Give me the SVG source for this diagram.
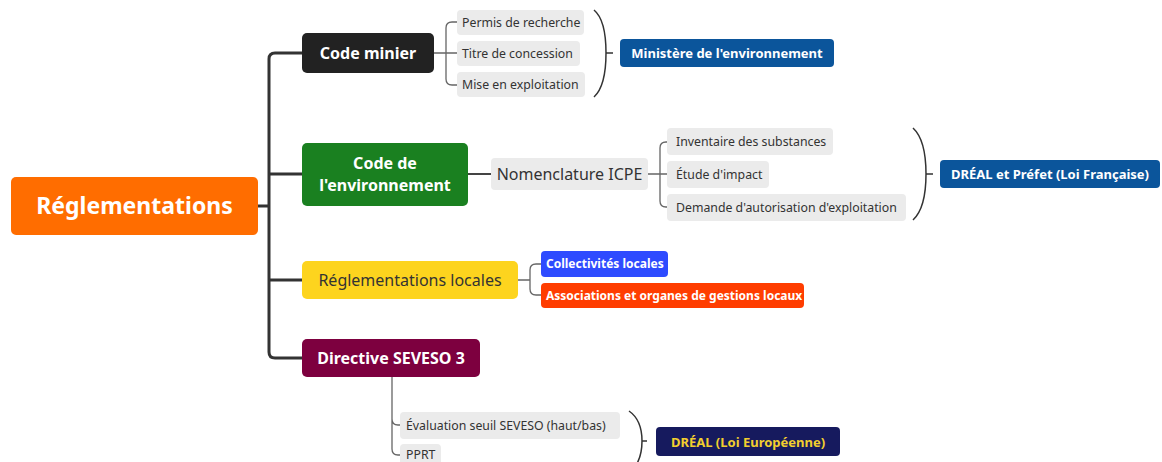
<svg xmlns="http://www.w3.org/2000/svg" width="1162" height="462" viewBox="0 0 1162 462">
<style>
text{font-family:"Noto Sans","Open Sans","DejaVu Sans",sans-serif;}
.main{fill:none;stroke:#333;stroke-width:3;}
.sub{fill:none;stroke:#666;stroke-width:1.3;}
.mid{fill:none;stroke:#444;stroke-width:2;}
.leaf rect{fill:#EBEBEB;}
.leaf text{fill:#333;font-size:12.3px;}
.br{fill:none;stroke:#333;stroke-width:1.5;}
.tw{fill:#fff;font-weight:bold;}
</style>
<rect width="1162" height="462" fill="#fff"/>
<g id="connectors">
<path class="main" d="M258,206 H269 M275,53 Q269,53 269,59 V352 Q269,358 275,358 H302 M275,53 H302 M269,174 H302 M269,280 H302"/>
<path class="sub" d="M434,53 H446 M457,22 H452 Q446,22 446,28 V79 Q446,85 452,85 H457 M446,53 H457"/>
<path class="br" d="M594,10 Q606,20 606,53 Q606,86 594,97 M606,53 H613"/>
<path class="mid" d="M468,174 H491"/>
<path class="sub" d="M648,174 H660 M667,142 H666 Q660,142 660,148 V201 Q660,207 666,207 H667 M660,174 H667"/>
<path class="br" d="M913,128 Q926,140 926,174 Q926,208 913,220 M926,174 H933"/>
<path class="sub" d="M518,280 H530 M541,264 H536 Q530,264 530,270 V289 Q530,295 536,295 H541"/>
<path class="sub" d="M392,377 V419 Q392,425 398,425 H400 M392,419 V449 Q392,455 398,455 H400"/>
<path class="br" d="M629,411 Q642,420 642,441 Q642,462 630,472 M642,441 H647"/>
</g>
<g id="root">
<rect x="11" y="177" width="247" height="58" rx="5" fill="#FF6D00"/>
<text x="134.5" y="214" text-anchor="middle" class="tw" font-size="23">Réglementations</text>
</g>
<g id="code-minier">
<rect x="302" y="33" width="132" height="40" rx="5" fill="#222"/>
<text x="368" y="59" text-anchor="middle" class="tw" font-size="16">Code minier</text>
</g>
<g id="permis" class="leaf"><rect x="457" y="10" width="127" height="25" rx="4"/><text x="462" y="27">Permis de recherche</text></g>
<g id="titre" class="leaf"><rect x="457" y="41" width="123" height="25" rx="4"/><text x="462" y="58">Titre de concession</text></g>
<g id="mise" class="leaf"><rect x="457" y="72" width="128" height="25" rx="4"/><text x="462" y="89">Mise en exploitation</text></g>
<g id="ministere">
<rect x="620" y="39" width="214" height="28" rx="4" fill="#0B559B"/>
<text x="727" y="58" text-anchor="middle" class="tw" font-size="13">Ministère de l'environnement</text>
</g>
<g id="code-env">
<rect x="302" y="143" width="166" height="63" rx="5" fill="#1A8020"/>
<text x="385" y="169" text-anchor="middle" class="tw" font-size="16">Code de</text>
<text x="385" y="191" text-anchor="middle" class="tw" font-size="16">l'environnement</text>
</g>
<g id="nomenclature">
<rect x="491" y="158" width="157" height="32" rx="4" fill="#EBEBEB"/>
<text x="569.5" y="180" text-anchor="middle" fill="#333" font-size="16">Nomenclature ICPE</text>
</g>
<g id="inventaire" class="leaf"><rect x="667" y="128" width="166" height="27" rx="4"/><text x="676" y="146">Inventaire des substances</text></g>
<g id="etude" class="leaf"><rect x="667" y="161" width="102" height="27" rx="4"/><text x="676" y="179">Étude d'impact</text></g>
<g id="demande" class="leaf"><rect x="667" y="194" width="239" height="27" rx="4"/><text x="676" y="212">Demande d'autorisation d'exploitation</text></g>
<g id="dreal-fr">
<rect x="940" y="160" width="220" height="28" rx="4" fill="#0B559B"/>
<text x="1050" y="179" text-anchor="middle" class="tw" font-size="13">DRÉAL et Préfet (Loi Française)</text>
</g>
<g id="regl-locales">
<rect x="302" y="261" width="216" height="38" rx="5" fill="#FDD41E"/>
<text x="410" y="286" text-anchor="middle" fill="#333" font-size="16">Réglementations locales</text>
</g>
<g id="collectivites">
<rect x="541" y="251" width="127" height="26" rx="4" fill="#2E4BFF"/>
<text x="546" y="268" class="tw" font-size="12">Collectivités locales</text>
</g>
<g id="associations">
<rect x="541" y="283" width="263" height="25" rx="4" fill="#FF3D00"/>
<text x="546" y="300" class="tw" font-size="12">Associations et organes de gestions locaux</text>
</g>
<g id="seveso">
<rect x="302" y="339" width="178" height="38" rx="5" fill="#7D003F"/>
<text x="391" y="364" text-anchor="middle" class="tw" font-size="16">Directive SEVESO 3</text>
</g>
<g id="evaluation" class="leaf"><rect x="400" y="412" width="220" height="27" rx="4"/><text x="406" y="430">Évaluation seuil SEVESO (haut/bas)</text></g>
<g id="pprt" class="leaf"><rect x="400" y="444" width="41" height="27" rx="4"/><text x="406" y="459">PPRT</text></g>
<g id="dreal-eu">
<rect x="656" y="427" width="184" height="29" rx="4" fill="#161A5E"/>
<text x="748" y="447" text-anchor="middle" fill="#F2CF2E" font-weight="bold" font-size="13">DRÉAL (Loi Européenne)</text>
</g>
</svg>
